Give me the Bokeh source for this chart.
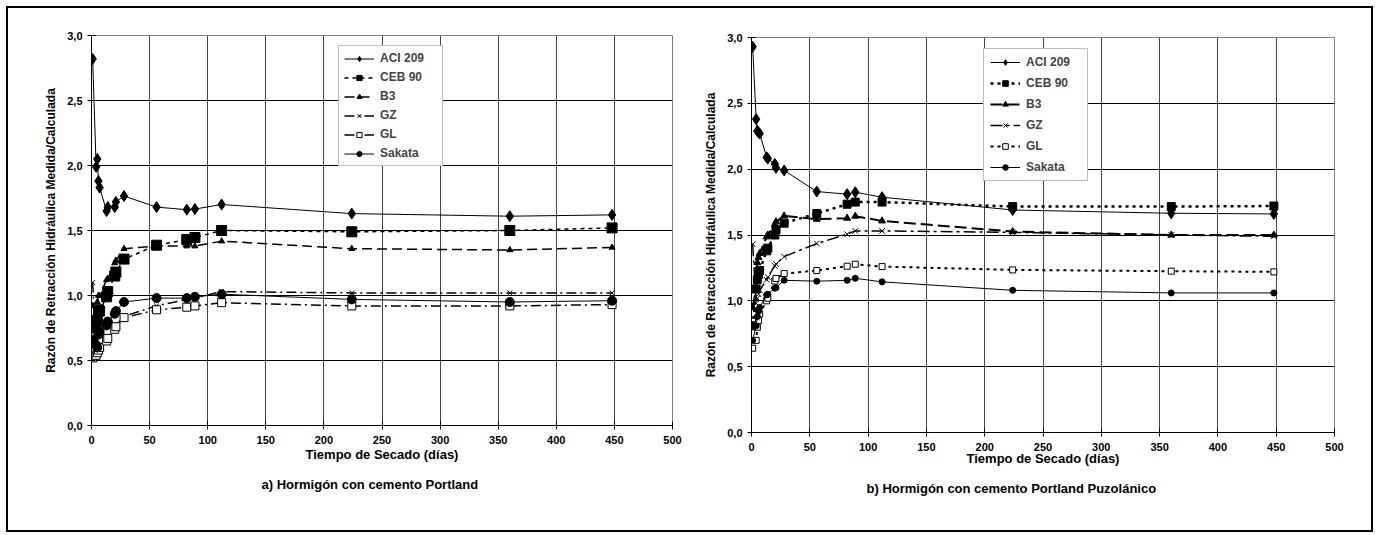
from bokeh.plotting import figure
from bokeh.models import (Range1d, Legend, LegendItem, CustomJSTickFormatter, FixedTicker, Title,
                          Div)
from bokeh.embed import file_html
from bokeh.resources import INLINE

# ---------------- data ----------------
dias = [1, 4, 5, 6, 7, 13, 14, 20, 21, 28, 56, 82, 89, 112, 224, 360, 448]
series_names = ["ACI 209", "CEB 90", "B3", "GZ", "GL", "Sakata"]

# a) Hormigón con cemento Portland
aci_a = [2.82, 1.99, 2.05, 1.88, 1.83, 1.65, 1.68, 1.68, 1.72, 1.765, 1.68, 1.66, 1.665, 1.70, 1.63, 1.61, 1.62]
ceb_a = [0.78, 0.75, 0.81, 0.89, 0.88, 0.99, 1.03, 1.15, 1.18, 1.28, 1.387, 1.43, 1.446, 1.50, 1.49, 1.50, 1.52]
b3_a = [0.92, 0.88, 0.95, 1.00, 1.00, 1.12, 1.13, 1.25, 1.27, 1.36, 1.38, 1.38, 1.38, 1.418, 1.36, 1.35, 1.37]
gz_a = [1.10, 0.57, 0.58, 0.60, 0.62, 0.66, 0.68, 0.75, 0.77, 0.84, 0.92, 0.97, 0.98, 1.03, 1.02, 1.02, 1.02]
gl_a = [0.52, 0.54, 0.56, 0.58, 0.60, 0.65, 0.67, 0.74, 0.76, 0.83, 0.89, 0.91, 0.92, 0.945, 0.92, 0.92, 0.93]
sak_a = [0.66, 0.62, 0.60, 0.70, 0.72, 0.77, 0.80, 0.86, 0.88, 0.95, 0.98, 0.98, 0.99, 1.01, 0.97, 0.95, 0.96]

# b) Hormigón con cemento Portland Puzolánico
aci_b = [2.93, 2.38, 2.29, 2.28, 2.27, 2.09, 2.08, 2.04, 2.01, 1.99, 1.83, 1.81, 1.825, 1.787, 1.69, 1.665, 1.66]
ceb_b = [0.81, 1.09, 1.16, 1.20, 1.23, 1.38, 1.40, 1.50, 1.54, 1.59, 1.663, 1.734, 1.75, 1.75, 1.716, 1.716, 1.72]
b3_b = [0.95, 1.10, 1.29, 1.33, 1.36, 1.486, 1.50, 1.58, 1.60, 1.645, 1.62, 1.628, 1.643, 1.607, 1.526, 1.50, 1.50]
gz_b = [1.43, 0.98, 1.02, 1.05, 1.08, 1.16, 1.18, 1.265, 1.28, 1.336, 1.435, 1.506, 1.531, 1.531, 1.52, 1.50, 1.49]
gl_b = [0.64, 0.70, 0.80, 0.85, 0.90, 1.00, 1.02, 1.15, 1.17, 1.207, 1.23, 1.263, 1.278, 1.26, 1.235, 1.225, 1.22]
sak_b = [0.70, 0.81, 0.88, 0.92, 0.95, 1.045, 1.05, 1.096, 1.10, 1.156, 1.149, 1.156, 1.171, 1.144, 1.08, 1.06, 1.06]

x_ticks = [0, 50, 100, 150, 200, 250, 300, 350, 400, 450, 500]
y_ticks = [0.0, 0.5, 1.0, 1.5, 2.0, 2.5, 3.0]

y_label = "Razón de Retracción Hidráulica Medida/Calculada"
x_label = "Tiempo de Secado (días)"
caption_a = "a) Hormigón con cemento Portland"
caption_b = "b) Hormigón con cemento Portland Puzolánico"

FONT = "Liberation Sans"

# styles: (dash, line_width, marker, size, fill)
style_a = [
    ("solid", 1, "diamond", 11, "black"),
    ("4 4", 1.5, "square", 10, "black"),
    ("10 5", 1.5, "triangle", 6, "black"),
    ("10 4 2 4", 1.5, "x", 7, None),
    ("10 4 2 4", 1.5, "square", 8, "white"),
    ("solid", 1, "circle", 9, "black"),
]
style_b = [
    ("solid", 1, "diamond", 11, "black"),
    ("3 4", 2.5, "square", 8, "black"),
    ("12 5", 2, "triangle", 7, "black"),
    ("12 4 3 4", 1.5, "x", 8, None),
    ("3 4", 2, "square", 6, "white"),
    ("solid", 1, "circle", 6, "black"),
]


def make_panel(values, styles, caption, cap_offset, cap_standoff, xl_standoff, width, height,
               mb_left, mb_right, mb_top, mb_bottom, legend_loc, legend_pad, legend_h,
               legend_sp, glyph_w, label_w, left_px, top_px):
    p = figure(width=width, height=height, output_backend="svg", toolbar_location=None,
               title=None, x_range=Range1d(0, 500), y_range=Range1d(0, 3),
               min_border_left=mb_left, min_border_right=mb_right,
               min_border_top=mb_top, min_border_bottom=mb_bottom,
               styles={"position": "absolute", "left": f"{left_px}px", "top": f"{top_px}px"})
    p.background_fill_color = "white"
    p.border_fill_color = "white"
    p.outline_line_color = "#808080"
    p.outline_line_width = 1

    p.xaxis.ticker = FixedTicker(ticks=x_ticks)
    p.yaxis.ticker = FixedTicker(ticks=y_ticks)
    p.yaxis.formatter = CustomJSTickFormatter(code="return tick.toFixed(1).replace('.', ',');")
    for ax in (p.xaxis[0], p.yaxis[0]):
        ax.axis_line_color = "black"
        ax.axis_line_width = 1
        ax.major_tick_line_color = "black"
        ax.major_tick_in = 4
        ax.major_tick_out = 4
        ax.minor_tick_line_color = None
        ax.major_label_text_font = FONT
        ax.major_label_text_font_style = "bold"
        ax.major_label_text_font_size = "11px"
        ax.major_label_text_color = "black"
        ax.axis_label_text_font = FONT
        ax.axis_label_text_font_style = "bold"
        ax.axis_label_text_color = "black"
    p.xaxis.major_label_standoff = 6
    p.yaxis.major_label_standoff = 5
    p.xaxis.axis_label = x_label
    p.xaxis.axis_label_text_font_size = "13px"
    p.xaxis.axis_label_standoff = xl_standoff
    p.yaxis.axis_label = y_label
    p.yaxis.axis_label_text_font_size = "12px"
    p.yaxis.axis_label_standoff = 6

    p.xgrid.grid_line_color = "#444444"
    p.xgrid.grid_line_width = 1
    p.ygrid.grid_line_color = "black"
    p.ygrid.grid_line_width = 1

    items = []
    for name, vals, (dash, lw, marker, size, fill) in zip(series_names, values, styles):
        ln = p.line(dias, vals, line_color="black", line_width=lw, line_dash=dash)
        sc = p.scatter(dias, vals, marker=marker, size=size, line_color="black",
                       fill_color=fill, line_width=1)
        items.append(LegendItem(label=name, renderers=[ln, sc]))

    leg = Legend(items=items, location=legend_loc)
    leg.border_line_color = "#808080"
    leg.border_line_width = 1.5
    leg.background_fill_color = "white"
    leg.background_fill_alpha = 1
    leg.label_text_font = FONT
    leg.label_text_font_style = "bold"
    leg.label_text_font_size = "12px"
    leg.padding = legend_pad
    leg.margin = 0
    leg.spacing = legend_sp
    leg.glyph_height = legend_h
    leg.label_height = legend_h
    leg.glyph_width = glyph_w
    leg.label_width = label_w
    leg.label_standoff = 6
    p.add_layout(leg, "center")

    cap = Title(text=caption, align="left", offset=cap_offset, text_font=FONT,
                text_font_style="bold", text_font_size="13px", text_color="black",
                standoff=cap_standoff)
    p.add_layout(cap, "below")
    return p


p1 = make_panel([aci_a, ceb_a, b3_a, gz_a, gl_a, sak_a], style_a, caption_a, 170, 20, 0,
                width=683, height=522, mb_left=83, mb_right=19, mb_top=27, mb_bottom=105,
                legend_loc=(247, 259), legend_pad=5, legend_h=13, legend_sp=5,
                glyph_w=30, label_w=57, left_px=8, top_px=8)
p2 = make_panel([aci_b, ceb_b, b3_b, gz_b, gl_b, sak_b], style_b, caption_b, 115, 20, -3,
                width=680, height=522, mb_left=60, mb_right=37, mb_top=29, mb_bottom=98,
                legend_loc=(232, 251), legend_pad=6, legend_h=14, legend_sp=7,
                glyph_w=30, label_w=55, left_px=691, top_px=8)

# outer frame drawn on top (transparent inside)
frame_box = Div(text="", width=1367, height=526, margin=0,
                styles={"position": "absolute", "left": "6px", "top": "6px",
                        "border": "2px solid black", "box-sizing": "border-box",
                        "background": "transparent", "pointer-events": "none"})

open("out.html", "w").write(file_html([p1, p2, frame_box], INLINE))
